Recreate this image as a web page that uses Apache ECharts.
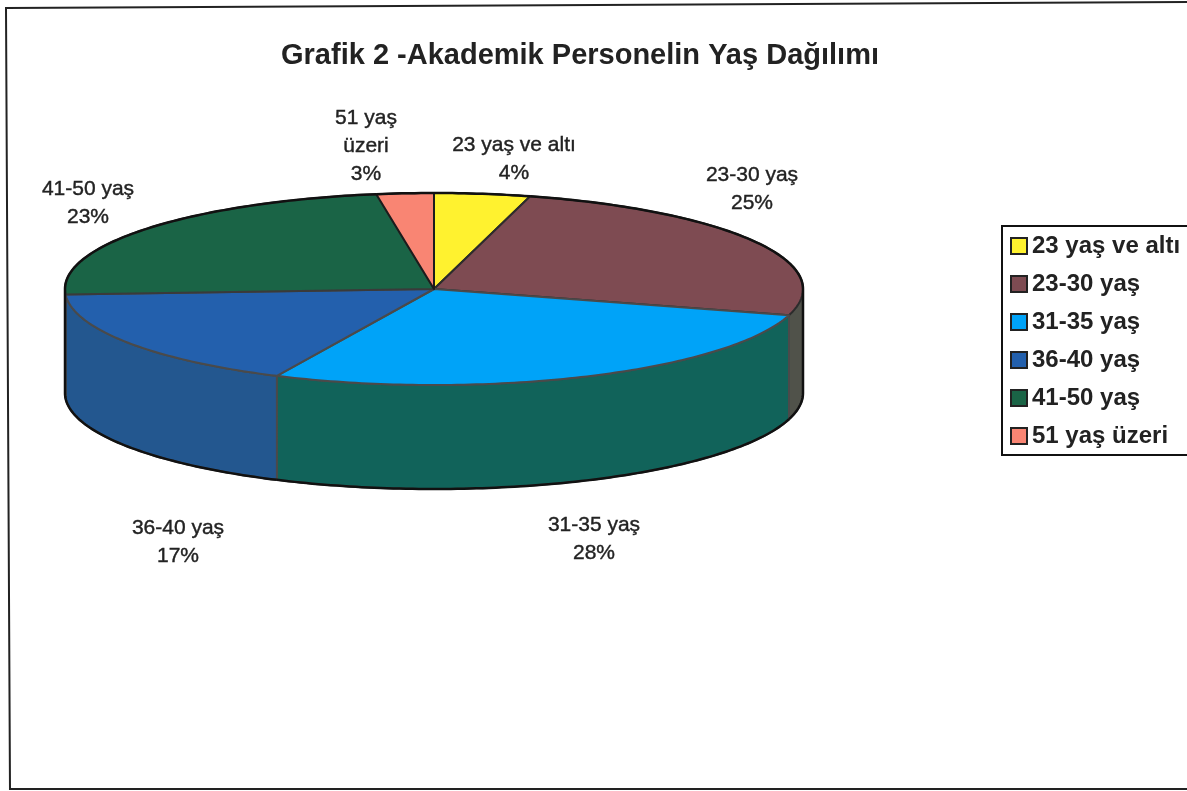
<!DOCTYPE html>
<html>
<head>
<meta charset="utf-8">
<style>html,body{margin:0;padding:0;background:#fff}#c{width:1187px;height:791px}</style>
<script src="https://cdn.jsdelivr.net/npm/echarts@6/dist/echarts.min.js"></script>
</head>
<body>
<div id="c"></div>
<script>
var titleText = 'Grafik 2 -Akademik Personelin Yaş Dağılımı';
var categories = ['23 yaş ve altı', '23-30 yaş', '31-35 yaş', '36-40 yaş', '41-50 yaş', '51 yaş üzeri'];
var percents = [4.2, 25.2, 27.6, 17.1, 23.4, 2.5];
var labelNames = ['23 yaş ve altı', '23-30 yaş', '31-35 yaş', '36-40 yaş', '41-50 yaş', '51 yaş\nüzeri'];

var topColors = ['#fff22f', '#7e4b52', '#00a3f8', '#2360ad', '#1a6446', '#f98573'];
var wallColors = ['#b8ad20', '#50524a', '#11635a', '#23578f', '#134a34', '#b8604f'];
var topStrokes = ['#1c1c1c', '#2c2c2c', '#4a4a4a', '#4a4a4a', '#3a3a3a', '#1c1c1c'];
var labelAnchors = [[514, 159], [752, 189], [594, 539], [178, 542], [88, 203], [366, 146]];
var pieLayout = {cx: 434, cy: 289, rx: 369, ry: 96, depth: 104};

var total = percents.reduce(function (a, b) { return a + b; }, 0);
var FRONT_A = 90, FRONT_B = 270;

function pt(deg, dy) {
  var r = deg * Math.PI / 180;
  return [pieLayout.cx + pieLayout.rx * Math.sin(r), pieLayout.cy - pieLayout.ry * Math.cos(r) + (dy || 0)];
}
function arc(a, b, dy) {
  var pts = [], n = Math.max(2, Math.ceil(Math.abs(b - a)));
  for (var i = 0; i <= n; i++) pts.push(pt(a + (b - a) * i / n, dy));
  return pts;
}
function sliceRenderer(index) {
  return function (params, api) {
    var before = 0;
    for (var i = 0; i < index; i++) before += percents[i];
    var value = api.value(0);
    var a = before / total * 360, b = (before + value) / total * 360;
    var kids = [];
    var wa = Math.max(a, FRONT_A), wb = Math.min(b, FRONT_B);
    if (wb > wa) {
      var rim = arc(wa, wb, 0), low = arc(wb, wa, pieLayout.depth);
      kids.push({type: 'polygon', z2: 1, shape: {points: rim.concat(low)},
        style: {fill: wallColors[index], stroke: '#4a4a4a', lineWidth: 2, lineJoin: 'round'}});
      kids.push({type: 'polyline', z2: 4, shape: {points: arc(wa, wb, pieLayout.depth)},
        style: {fill: null, stroke: '#111', lineWidth: 2.5}});
    }
    var top = [[pieLayout.cx, pieLayout.cy]].concat(arc(a, b, 0));
    kids.push({type: 'polygon', z2: 2, shape: {points: top},
      style: {fill: topColors[index], stroke: topStrokes[index], lineWidth: 2, lineJoin: 'round'}});
    // dark silhouette along the back rim and the vertical sides
    var ba = Math.max(a, 270), bb = b;
    if (b <= 90) { ba = a; bb = b; }
    if (b <= 90 || bb > ba) {
      kids.push({type: 'polyline', z2: 4, shape: {points: arc(ba, bb, 0)},
        style: {fill: null, stroke: '#111', lineWidth: 2.5}});
    }
    if (a < 90 && b > 90) {
      kids.push({type: 'polyline', z2: 4, shape: {points: arc(a, 90, 0)},
        style: {fill: null, stroke: '#111', lineWidth: 2.5}});
      kids.push({type: 'line', z2: 4, shape: {x1: pt(90)[0], y1: pt(90)[1], x2: pt(90)[0], y2: pt(90)[1] + pieLayout.depth},
        style: {stroke: '#111', lineWidth: 2.5}});
    }
    if (a < 270 && b > 270) {
      kids.push({type: 'line', z2: 4, shape: {x1: pt(270)[0], y1: pt(270)[1], x2: pt(270)[0], y2: pt(270)[1] + pieLayout.depth},
        style: {stroke: '#111', lineWidth: 2.5}});
    }
    kids.push({type: 'text', z2: 10, style: {
      text: labelNames[index] + '\n' + Math.round(value) + '%',
      x: labelAnchors[index][0], y: labelAnchors[index][1],
      align: 'center', verticalAlign: 'middle', lineHeight: 28,
      font: '21px "Liberation Sans", Arial, sans-serif', fill: '#222', stroke: '#222', lineWidth: 0.4}});
    return {type: 'group', children: kids};
  };
}

var chart = echarts.init(document.getElementById('c'), null, {renderer: 'canvas'});
chart.setOption({
  animation: false,
  backgroundColor: '#ffffff',
  title: {
    text: titleText, left: 575, top: 36, textAlign: 'center',
    textStyle: {fontFamily: '"Liberation Sans", Arial, sans-serif', fontWeight: 'bold', fontSize: 29, color: '#222'}
  },
  legend: {
    data: categories, orient: 'vertical', left: 1002, top: 226,
    padding: [7, 40, 6, 8], itemWidth: 16, itemHeight: 16, itemGap: 12,
    backgroundColor: '#fff', borderColor: '#111', borderWidth: 2, borderRadius: 0,
    icon: 'rect', selectedMode: false,
    itemStyle: {borderColor: '#222', borderWidth: 2},
    textStyle: {fontFamily: '"Liberation Sans", Arial, sans-serif', fontWeight: 'bold', fontSize: 24, color: '#222', lineHeight: 26}
  },
  graphic: [{
    type: 'polygon', silent: true, z: -1,
    shape: {points: [[6, 8], [1195, 2], [1195, 789], [10, 789]]},
    style: {fill: 'none', stroke: '#222', lineWidth: 2}
  }],
  series: categories.map(function (name, i) {
    return {
      type: 'custom', name: name, coordinateSystem: 'none',
      itemStyle: {color: topColors[i]},
      renderItem: sliceRenderer(i),
      data: [[percents[i]]]
    };
  })
});
</script>
</body>
</html>
